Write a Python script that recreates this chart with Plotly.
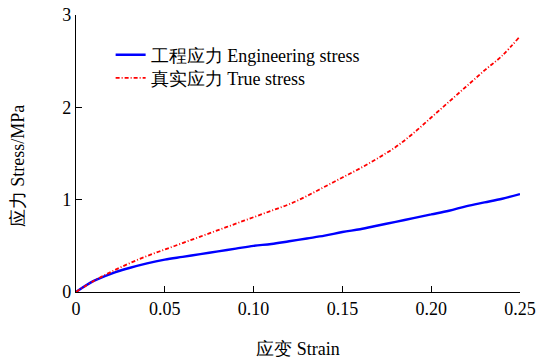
import plotly.graph_objects as go

strain = [0.00, 0.01, 0.02, 0.03, 0.04, 0.05, 0.06, 0.07, 0.08, 0.09, 0.10, 0.11, 0.12,
          0.13, 0.14, 0.15, 0.16, 0.17, 0.18, 0.19, 0.20, 0.21, 0.22, 0.23, 0.24, 0.25]
eng_stress = [0.00, 0.12, 0.20, 0.26, 0.31, 0.35, 0.38, 0.41, 0.44, 0.47, 0.50, 0.52, 0.55,
              0.58, 0.61, 0.65, 0.68, 0.72, 0.76, 0.80, 0.84, 0.88, 0.93, 0.97, 1.01, 1.06]
true_stress = [0.00, 0.12, 0.22, 0.31, 0.39, 0.46, 0.53, 0.60, 0.67, 0.74, 0.81, 0.88, 0.95,
               1.04, 1.14, 1.24, 1.34, 1.45, 1.57, 1.72, 1.89, 2.06, 2.23, 2.40, 2.56, 2.77]

x_tickvals = [0, 0.05, 0.10, 0.15, 0.20, 0.25]
x_ticktext = ["0", "0.05", "0.10", "0.15", "0.20", "0.25"]
y_tickvals = [0, 1, 2, 3]
y_ticktext = ["0", "1", "2", "3"]

FONT = "'Times New Roman', 'Liberation Serif', Tinos, 'DejaVu Serif', serif"

fig = go.Figure()
fig.add_trace(go.Scatter(x=strain, y=eng_stress, mode="lines",
                         name="工程应力 Engineering stress", legend="legend",
                         line=dict(color="#0000ff", width=2.4, shape="spline")))
fig.add_trace(go.Scatter(x=strain, y=true_stress, mode="lines",
                         name="真实应力 True stress", legend="legend2",
                         line=dict(color="#ff0000", width=1.8, dash="4px,2px,1px,2px", shape="spline")))

leg_common = dict(xanchor="left", yanchor="top", bgcolor="rgba(0,0,0,0)",
                  font=dict(family=FONT, size=18, color="black"), itemwidth=30)

fig.update_layout(
    width=538, height=361,
    margin=dict(l=76, r=18, t=15, b=69, autoexpand=False),
    paper_bgcolor="white", plot_bgcolor="white",
    font=dict(family=FONT, size=18, color="black"),
    showlegend=True,
    legend=dict(x=0.078, y=0.922, **leg_common),
    legend2=dict(x=0.078, y=0.839, **leg_common),
    xaxis=dict(range=[0, 0.25], tickvals=x_tickvals, ticktext=x_ticktext,
               showline=True, linecolor="black", linewidth=1.2,
               ticks="inside", ticklen=6, tickcolor="black",
               showgrid=False, zeroline=False, ticklabeloverflow="allow",
               automargin=False,
               title=dict(text="应变 Strain", standoff=24, font=dict(size=18))),
    yaxis=dict(range=[0, 3], tickvals=y_tickvals, ticktext=y_ticktext,
               showline=True, linecolor="black", linewidth=1.2,
               ticks="inside", ticklen=6, tickcolor="black",
               showgrid=False, zeroline=False, ticklabeloverflow="allow",
               automargin=False),
    annotations=[dict(text="应力 Stress/MPa", textangle=-90, xref="paper", yref="paper",
                      x=-0.13, y=0.455, xanchor="center", yanchor="middle",
                      showarrow=False, font=dict(family=FONT, size=18, color="black"))],
)

fig.write_html("out.html")
